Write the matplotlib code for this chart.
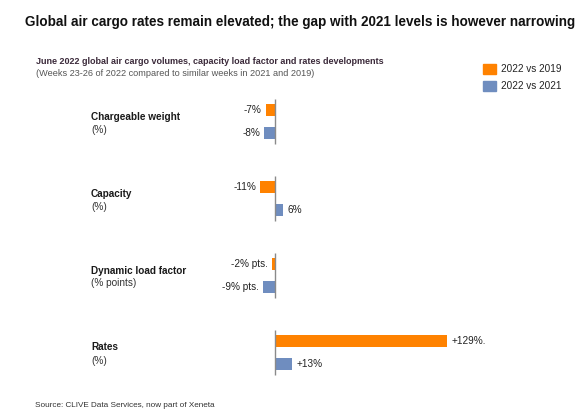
import matplotlib
matplotlib.use("Agg")
import matplotlib.pyplot as plt

plt.rcParams['font.family'] = ['Liberation Sans', 'DejaVu Sans']

categories = ["Chargeable weight", "Capacity", "Dynamic load factor", "Rates"]
units = ["(%)", "(%)", "(% points)", "(%)"]
vs2019 = [-7, -11, -2, 129]
vs2021 = [-8, 6, -9, 13]
labels2019 = ["-7%", "-11%", "-2% pts.", "+129%."]
labels2021 = ["-8%", "6%", "-9% pts.", "+13%"]
series_names = ["2022 vs 2019", "2022 vs 2021"]

ORANGE = "#FF8200"
BLUE = "#6F8DBF"

W, H = 584, 419
fig = plt.figure(figsize=(W / 100, H / 100), dpi=100)

def fx(px):
    return px / W

def fy(py):
    return 1 - py / H

# axes in pixel coords
ax_l, ax_r, ax_t, ax_b = 201, 581, 90, 385
ax = fig.add_axes([fx(ax_l), fy(ax_b), fx(ax_r - ax_l), (ax_b - ax_t) / H])
zero_px = 275
ppu = 172 / 129.0
ax.set_xlim(-(zero_px - ax_l) / ppu, (ax_r - zero_px) / ppu)
grp0 = 121.5
sp = 77.0
ax.set_ylim((ax_b - grp0) / sp, (ax_t - grp0) / sp)
ax.axis("off")

off = 0.15
bh = 0.16
for i in range(len(categories)):
    ax.barh(i - off, vs2019[i], height=bh, color=ORANGE)
    ax.barh(i + off, vs2021[i], height=bh, color=BLUE)
    ax.vlines(0, i - 0.29, i + 0.29, color="#8a8a8a", lw=1.0)
    for val, lab, yy in ((vs2019[i], labels2019[i], i - off), (vs2021[i], labels2021[i], i + off)):
        if val < 0:
            ax.annotate(lab, (val, yy), xytext=(-3, 0), textcoords="offset points",
                        ha="right", va="center", fontsize=7.2, color="#222222")
        else:
            ax.annotate(lab, (val, yy), xytext=(3, 0), textcoords="offset points",
                        ha="left", va="center", fontsize=7.2, color="#222222")

# category labels
for i, (c, u) in enumerate(zip(categories, units)):
    yc = grp0 + i * sp
    fig.text(fx(91), fy(yc - 5), c, fontsize=7.2, fontweight="bold", ha="left", va="center", color="#1a1a1a")
    fig.text(fx(91), fy(yc + 8), u, fontsize=7.2, ha="left", va="center", color="#333333")

fig.text(fx(25), fy(22), "Global air cargo rates remain elevated; the gap with 2021 levels is however narrowing",
         fontsize=9.75, fontweight="bold", ha="left", va="center", color="#111111")
fig.text(fx(36), fy(62), "June 2022 global air cargo volumes, capacity load factor and rates developments",
         fontsize=6.5, fontweight="bold", ha="left", va="center", color="#3b2a3a")
fig.text(fx(36), fy(74), "(Weeks 23-26 of 2022 compared to similar weeks in 2021 and 2019)",
         fontsize=6.6, ha="left", va="center", color="#555555")

# legend
for j, (name, col) in enumerate(zip(series_names, [ORANGE, BLUE])):
    yc = 69 + j * 17
    fig.patches.append(plt.Rectangle((fx(483), fy(yc + 5)), fx(13), 10 / H, color=col,
                                     transform=fig.transFigure, figure=fig))
    fig.text(fx(501), fy(yc), name, fontsize=7.2, ha="left", va="center", color="#222222")

fig.text(fx(35), fy(405), "Source: CLIVE Data Services, now part of Xeneta",
         fontsize=5.9, ha="left", va="center", color="#333333")

fig.savefig("out.png", dpi=100)
